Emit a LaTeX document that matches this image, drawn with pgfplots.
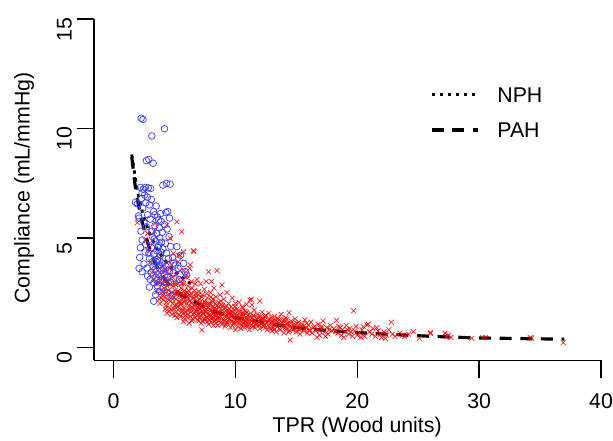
\documentclass[border=0pt]{standalone}
\usepackage{pgfplots}
\pgfplotsset{compat=1.18}
\usepackage{fontspec}
\setmainfont{Liberation Sans}
\definecolor{nphblue}{rgb}{0.25,0.25,1}
\definecolor{pahred}{rgb}{1,0,0}
\begin{document}
\begin{tikzpicture}
\useasboundingbox (-70.5pt,-60.45pt) rectangle (389.25pt,270.3pt);
\begin{axis}[
  at={(0,0)}, anchor=south west,
  scale only axis, width=380.25pt, height=256.2pt,
  xmin=-1.6, xmax=40, ymin=-0.6, ymax=15,
  axis x line*=bottom, axis y line*=left,
  axis line style={line width=1.1pt, black},
  xtick={0,10,20,30,40}, ytick={0,5,10,15},
  tick align=outside, major tick length=13pt,
  tick style={line width=1.1pt, black},
  minor tick num=0,
  font=\fontsize{16}{19}\selectfont,
  ticklabel style={font=\fontsize{16}{19}\selectfont},
  /pgf/number format/assume math mode=true,
  xticklabel style={yshift=-8pt},
  yticklabel style={rotate=90, anchor=south, xshift=-8pt},
  xlabel={TPR (Wood units)}, ylabel={Compliance (mL/mmHg)},
  xlabel style={at={([yshift=-50pt]axis description cs:0.519,0)}, anchor=center, font=\fontsize{16}{19}\selectfont},
  ylabel style={at={([xshift=-52.5pt]axis description cs:0,0.505)}, anchor=center, font=\fontsize{16}{19}\selectfont},
  clip=false,
  legend style={draw=none, fill=none, at={(axis cs:25.96,11.9)}, anchor=north west,
    font=\fontsize{16}{19}\selectfont, row sep=15pt, inner sep=0pt,
    nodes={inner sep=0pt, text height=11.5pt, text depth=0pt}},
  legend cell align=left,
  legend image code/.code={\draw[#1] (0pt,0pt) -- (34.5pt,0pt); \path (48pt,0pt);},
]
% PAH (red crosses)
\addplot[only marks, mark=x, mark size=2.6pt, pahred, mark options={line width=0.55pt, draw opacity=0.85}, forget plot] coordinates {
(1.95,5.69)(2.6,4.9)(2.9,4.4)(3.05,3.9)(3.2,4.7)(3.3,3.07)(3.35,5.3)(3.42,5.66)(3.45,3.6)(3.4,4.1)(2.8,5.2)(3.15,3.4)(3.5,2.9)
(3.55,2.54)(3.6,3.3)(3.65,2.9)(3.7,3.8)(3.75,2.2)(3.8,2.0)(3.85,3.1)(3.9,2.6)(3.95,3.5)(4.0,2.4)(4.0,2.9)(4.05,3.2)(4.1,2.15)(4.1,3.7)(4.15,2.7)(4.2,2.3)(4.25,3.0)(4.3,2.5)(4.3,1.9)(4.35,3.4)(4.38,5.58)(4.4,1.55)(4.4,2.8)(4.45,2.2)(4.5,3.91)(4.5,2.6)(4.55,3.1)(4.6,1.8)(4.6,2.4)(4.65,4.98)(4.65,2.9)(4.7,2.1)(4.7,3.3)(4.75,1.7)(4.79,3.76)(4.8,2.5)(4.85,2.0)(4.9,2.8)(4.92,4.29)(4.95,2.3)(5.0,1.9)(5.0,3.0)
(5.05,2.6)(5.1,2.2)(5.1,1.6)(5.15,3.3)(5.2,5.73)(5.2,2.4)(5.25,1.85)(5.3,2.9)(5.33,4.21)(5.35,2.1)(5.4,2.5)(5.4,1.5)(5.45,3.5)(5.5,2.3)(5.5,1.95)(5.55,2.7)(5.6,5.28)(5.6,2.0)(5.65,1.65)(5.7,3.1)(5.74,4.36)(5.74,1.17)(5.75,2.4)(5.8,1.8)(5.85,2.6)(5.9,2.15)(5.9,1.45)(5.95,3.2)(6.0,2.0)(6.0,2.5)(6.05,1.7)(6.1,2.8)(6.1,1.35)(6.15,2.2)(6.2,1.9)(6.25,3.6)(6.3,3.76)(6.3,2.35)(6.35,1.6)(6.4,2.05)(6.45,2.7)(6.5,1.8)(6.5,1.3)(6.55,4.41)(6.6,4.38)(6.6,2.25)(6.65,1.55)(6.7,2.9)(6.7,1.95)(6.75,2.45)(6.8,1.7)(6.85,3.1)(6.9,2.1)(6.9,1.25)(6.95,1.85)(7.0,2.55)(7.0,1.5)(5.47,4.2)(5.3,3.9)(5.8,3.5)(6.0,3.3)(5.6,2.9)(6.4,3.0)(5.2,1.35)(6.2,1.1)(5.95,2.4)
(7.05,2.2)(7.1,1.35)(7.1,1.75)(7.15,2.9)(7.2,1.1)(7.25,0.79)(7.25,1.95)(7.3,2.4)(7.35,1.55)(7.4,1.85)(7.45,2.65)(7.5,1.25)(7.5,2.05)(7.55,1.6)(7.6,3.0)(7.65,1.4)(7.7,2.25)(7.75,1.8)(7.8,3.45)(7.8,1.05)(7.85,1.95)(7.9,1.5)(7.95,2.5)(8.0,1.7)(8.05,3.0)(8.05,1.3)(8.1,2.1)(8.15,1.55)(8.2,1.85)(8.25,2.7)(8.3,1.2)(8.35,1.65)(8.4,2.3)(8.45,1.45)(8.5,3.5)(8.5,1.9)(8.55,1.0)(8.6,1.6)(8.65,2.05)(8.7,1.35)(8.75,2.4)(8.8,1.75)(8.85,1.15)(8.9,2.85)(8.9,1.5)(8.95,1.9)(9.0,1.25)(9.05,2.2)(9.1,1.6)(9.15,0.95)(9.2,1.8)(9.25,1.4)(9.3,2.5)(9.35,1.1)(9.4,1.65)(9.45,2.0)(9.5,1.3)(9.55,1.5)(9.6,0.9)(9.65,1.85)(9.7,1.2)(9.75,2.25)(9.8,1.45)(9.85,1.05)(9.9,1.7)(9.95,1.3)(10.0,0.79)(10.0,2.0)(7.4,1.3)(7.7,1.15)(8.2,1.0)(8.0,2.3)(7.6,2.0)(8.8,2.1)(9.2,1.05)(9.6,1.6)(7.3,1.65)(8.4,1.25)
(10.05,1.5)(10.1,1.15)(10.15,1.75)(10.2,0.95)(10.25,1.35)(10.3,2.05)(10.35,1.2)(10.4,1.6)(10.45,0.85)(10.5,1.4)(10.55,1.85)(10.6,1.1)(10.65,1.5)(10.7,1.25)(10.75,0.9)(10.8,1.65)(10.85,1.3)(10.9,1.95)(10.95,1.05)(11.0,1.45)(11.1,1.2)(11.15,0.8)(11.2,2.16)(11.25,1.55)(11.3,2.19)(11.35,1.93)(11.35,1.0)(11.4,1.35)(11.5,1.15)(11.55,1.7)(11.6,0.9)(11.7,1.3)(11.75,1.05)(11.8,1.5)(11.9,1.2)(12.0,2.11)(12.0,0.85)(12.05,1.4)(12.1,1.1)(12.2,1.6)(12.3,0.95)(12.35,1.3)(12.4,1.0)(12.5,1.45)(12.55,1.15)(12.6,0.8)(12.7,1.25)(12.75,1.55)(12.8,0.95)(12.9,1.1)(12.95,1.35)(13.0,0.75)(10.6,1.8)(11.0,0.95)(12.2,1.25)
(13.05,1.2)(13.1,0.9)(13.2,1.4)(13.3,1.0)(13.35,0.7)(13.4,1.15)(13.5,1.3)(13.6,0.85)(13.7,1.05)(13.75,1.5)(13.8,0.95)(13.9,1.2)(14.0,0.65)(14.05,1.0)(14.15,1.35)(14.2,0.85)(14.3,1.1)(14.4,1.58)(14.45,0.75)(14.5,0.33)(14.5,0.95)(14.6,1.2)(14.7,0.8)(14.8,1.05)(14.9,1.3)(15.0,0.7)(15.1,0.95)(15.2,1.15)(15.3,0.6)(15.4,0.85)(15.5,1.05)(15.6,0.75)(15.7,1.25)(15.8,0.9)(15.9,0.65)(16.0,1.0)(13.6,1.25)(14.2,1.25)(15.0,0.88)(13.2,0.8)
(16.1,0.8)(16.2,1.15)(16.3,0.65)(16.5,0.95)(16.6,0.75)(16.8,1.05)(16.9,0.55)(17.0,0.85)(17.2,1.2)(17.3,0.7)(17.5,0.9)(17.6,0.6)(17.8,1.0)(17.9,0.75)(18.1,0.85)(18.3,1.23)(18.4,0.65)(18.5,0.95)(18.7,0.55)(18.8,0.8)(19.0,0.7)(19.1,1.0)(19.3,0.6)(19.4,0.85)(19.6,0.5)(19.7,1.67)(19.8,0.75)(19.9,0.95)(20.0,0.55)(16.7,0.45)(17.4,0.5)(18.9,0.45)
(20.2,0.65)(20.4,0.8)(20.5,0.94)(20.6,0.5)(20.8,1.02)(20.9,1.06)(21.0,0.7)(21.2,0.6)(21.3,0.85)(21.5,0.5)(21.7,0.75)(21.9,0.6)(22.0,0.45)(22.2,0.7)(22.4,0.55)(22.6,0.8)(22.8,1.14)(22.9,0.6)(23.1,0.5)(23.5,0.65)(23.7,0.55)(23.9,0.5)(24.2,0.6)(24.6,0.71)(25.1,0.41)(21.6,0.9)(22.3,0.4)(20.3,0.45)
(26.0,0.67)(26.0,0.63)(27.2,0.64)(27.3,0.48)(27.5,0.55)(27.7,0.45)(29.4,0.41)(30.3,0.44)(30.5,0.45)(34.2,0.44)(34.3,0.42)(36.9,0.21)
(3.9,2.25)(4.05,2.55)(4.2,3.55)(4.25,1.75)(4.35,2.05)(4.45,2.95)(4.55,1.65)(4.6,3.6)(4.75,2.25)(4.8,1.5)(4.85,3.2)(4.95,1.75)(5.0,2.45)(5.05,1.45)(5.1,2.85)(5.15,1.95)(5.25,2.55)(5.3,1.7)(5.35,3.1)(5.45,2.05)(5.5,1.4)(5.55,2.45)(5.6,1.75)(5.65,2.2)(5.7,1.55)(5.75,2.9)(5.8,2.05)(5.85,1.3)(5.9,2.45)(5.95,1.6)(6.05,2.3)(6.1,1.5)(6.15,2.6)(6.2,1.75)(6.25,2.1)(6.3,1.4)(6.35,2.45)(6.4,1.75)(6.45,1.2)(6.5,2.25)(6.55,1.5)(6.6,1.9)(6.65,2.6)(6.7,1.35)(6.75,1.65)(6.8,2.3)(6.85,1.45)(6.9,1.8)(6.95,2.4)(7.0,1.2)
(7.05,1.6)(7.1,2.05)(7.15,1.45)(7.2,1.85)(7.25,2.3)(7.3,1.2)(7.35,1.95)(7.4,1.5)(7.45,2.1)(7.5,1.65)(7.55,1.3)(7.6,1.75)(7.65,2.45)(7.7,1.35)(7.75,1.55)(7.8,2.0)(7.85,1.25)(7.9,1.75)(7.95,1.4)(8.0,1.95)(8.05,1.15)(8.1,1.6)(8.15,2.2)(8.2,1.35)(8.25,1.75)(8.3,1.5)(8.35,2.0)(8.4,1.1)(8.45,1.7)(8.5,1.35)(8.6,1.85)(8.65,1.2)(8.7,1.6)(8.8,1.4)(8.85,1.95)(8.9,1.05)(9.0,1.55)(9.05,1.75)(9.1,1.2)(9.2,1.45)(9.25,1.9)(9.3,1.15)(9.4,1.35)(9.45,1.55)(9.5,1.75)(9.6,1.25)(9.7,1.45)(9.75,1.0)(9.8,1.6)(9.9,1.15)(9.95,1.85)
(10.05,1.25)(10.1,1.45)(10.2,1.65)(10.3,1.1)(10.35,1.4)(10.45,1.3)(10.55,1.0)(10.6,1.6)(10.7,1.45)(10.8,1.05)(10.85,1.2)(10.95,1.6)(11.05,1.3)(11.1,1.05)(11.2,1.4)(11.3,1.2)(11.45,0.95)(11.5,1.45)(11.6,1.2)(11.7,1.05)(11.85,1.35)(11.95,1.0)(12.1,1.3)(12.25,1.1)(12.4,1.4)(12.5,0.9)(12.65,1.15)(12.8,1.3)(12.9,0.85)(13.0,1.15)(13.15,1.05)(13.3,1.25)(13.45,0.95)(13.55,1.1)(13.7,0.8)(13.85,1.1)(14.0,1.25)(14.1,0.9)(14.25,1.05)(14.35,0.7)(14.55,1.1)(14.65,0.9)(14.85,0.85)(15.05,1.1)(15.25,0.8)(15.45,0.95)(15.65,0.85)(15.85,1.1)(16.05,0.75)(16.4,0.9)(16.9,0.75)(17.1,0.95)(17.7,0.8)(18.2,0.7)(18.6,0.9)(19.2,0.8)(19.5,0.7)
};
% NPH (blue circles)
\addplot[only marks, mark=o, mark size=2.5pt, nphblue, mark options={line width=0.55pt}, forget plot] coordinates {
(2.27,10.46)(2.42,10.40)(3.15,9.65)(4.18,9.98)(2.70,8.52)(2.90,8.58)(3.25,8.40)
(2.20,7.30)(2.45,7.22)(2.62,7.30)(2.85,7.28)(3.05,7.25)(2.35,7.05)(4.05,7.40)(4.35,7.48)(4.65,7.45)
(2.55,6.95)(2.78,6.85)(2.30,6.80)(3.10,6.75)(1.80,6.62)(2.65,6.60)(2.95,6.50)(3.50,6.45)(2.40,6.35)(3.30,6.20)(3.85,6.10)(4.30,6.15)(2.05,6.00)(2.80,6.05)(3.60,5.95)(3.00,5.85)(3.90,5.75)(2.50,5.70)(4.20,5.60)(3.40,5.55)(3.75,5.45)(2.25,5.30)(4.40,5.40)(3.15,5.30)(3.55,5.20)(4.00,5.25)(3.20,5.05)(3.80,5.00)(4.55,5.05)(2.35,4.90)(3.45,4.85)(3.95,4.80)(4.25,4.75)(3.70,4.65)(4.70,4.60)(2.20,4.55)(3.10,4.55)(4.05,4.50)(3.55,4.40)(2.60,4.35)(3.30,4.25)(4.35,4.30)(3.85,4.20)(2.15,4.10)(2.95,4.05)(3.60,4.00)(4.50,4.05)(4.85,4.10)(3.20,3.90)(4.00,3.85)(2.50,3.80)(3.75,3.75)(4.30,3.70)(5.05,3.75)(2.10,3.60)(2.75,3.62)(3.40,3.55)(3.95,3.50)(4.60,3.50)(2.35,3.45)(3.10,3.40)(3.65,3.35)(4.20,3.30)(4.90,3.40)(2.80,3.25)(3.50,3.20)(4.45,3.20)(3.00,3.10)(3.85,3.05)(4.15,3.00)(3.30,2.95)(4.70,2.95)(3.60,2.80)(2.95,2.75)(4.05,2.70)(3.75,2.55)(4.40,2.50)(3.45,2.40)(4.80,2.35)(3.30,2.10)(5.75,3.83)(5.88,3.45)(6.00,3.30)(5.30,3.60)(5.50,4.20)(5.20,4.60)(3.35,4.95)(3.65,4.55)(3.90,4.35)(3.50,3.90)(3.80,3.95)(4.10,3.60)(3.25,3.70)(3.55,3.05)(2.65,4.70)(2.90,4.30)(3.70,5.80)(3.40,6.05)(2.70,5.50)(1.95,6.55)(2.10,5.90)(4.45,6.20)(4.60,5.90)(5.40,3.10)(4.95,3.85)
};
% fitted curves
\addplot[black, line width=2.2pt, dash pattern=on 2.5pt off 3.5pt, smooth] coordinates {
(1.5,8.8)(2,7.04)(2.5,5.93)(3,5.15)(3.5,4.57)(4,4.13)(4.5,3.77)(5,3.48)(5.5,3.23)(6,3.02)(6.5,2.85)
};
\addlegendentry{NPH}
\addplot[black, line width=2.4pt, dash pattern=on 9pt off 6.5pt, smooth] coordinates {
(1.5,8.7)(1.8,7.3)(2.2,6.1)(2.6,5.2)(3.2,4.1)(4,3.3)(4.8,2.7)(6,2.25)(7,1.98)(8,1.70)(9,1.50)(10,1.36)(11.4,1.22)(13.1,1.05)(14.75,0.92)(16.4,0.82)(18,0.75)(19.8,0.68)(21.3,0.63)(23.1,0.58)(24.9,0.53)(26.5,0.49)(28.1,0.46)(29.6,0.43)(33,0.40)(37,0.37)
};
\addlegendentry{PAH}
\end{axis}
\end{tikzpicture}
\end{document}
